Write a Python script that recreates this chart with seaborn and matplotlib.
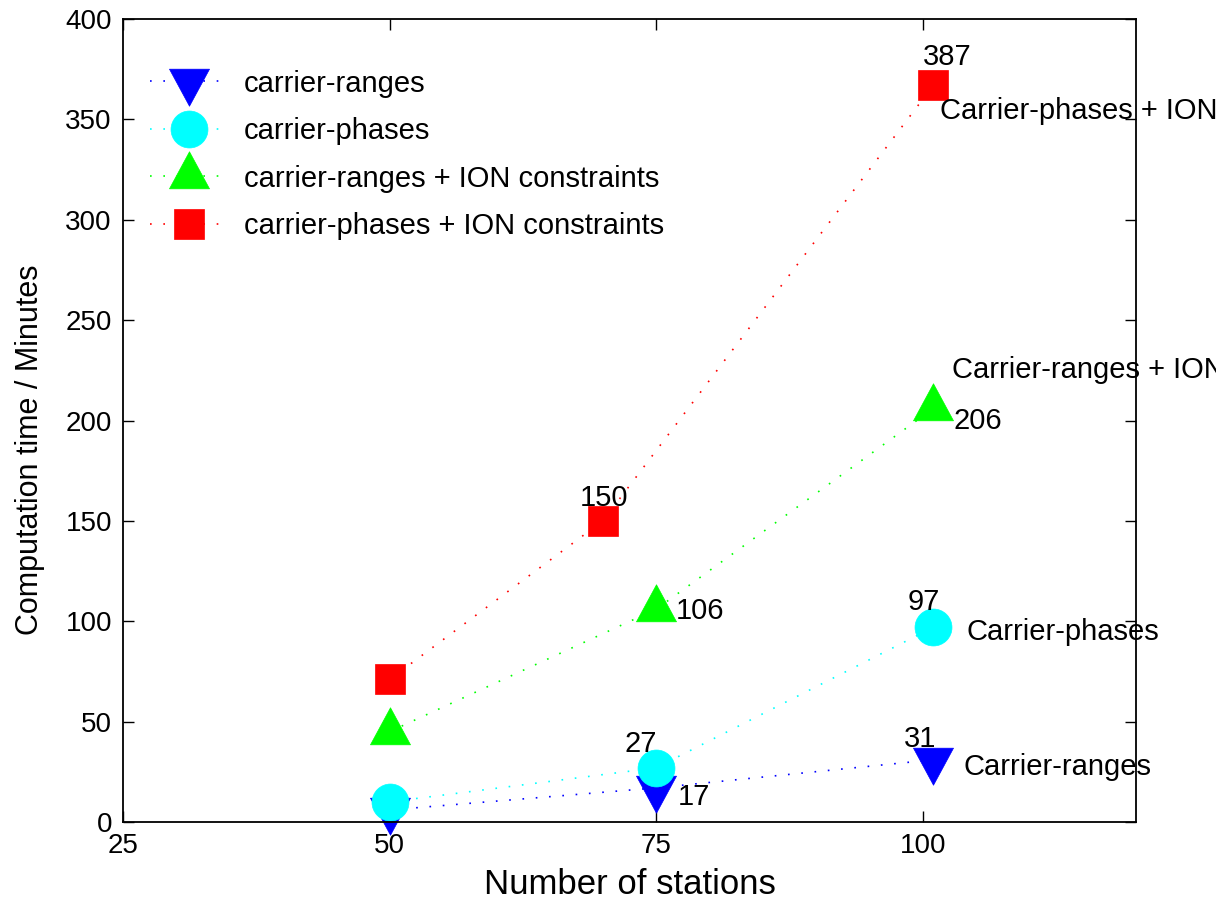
import matplotlib
matplotlib.use("Agg")
import matplotlib.pyplot as plt
from matplotlib.path import Path
import seaborn as sns

# stations / computation time (minutes) for each processing mode
stations_cr = [50, 75, 101]
minutes_cr = [6, 17, 31]
stations_cp = [50, 75, 101]
minutes_cp = [10, 27, 97]
stations_cri = [50, 75, 101]
minutes_cri = [45, 106, 206]
stations_cpi = [50, 70, 101]
minutes_cpi = [71, 150, 367]

series_names = ['carrier-ranges', 'carrier-phases',
                'carrier-ranges + ION constraints', 'carrier-phases + ION constraints']

x_ticks = [25, 50, 75, 100]
y_ticks = [0, 50, 100, 150, 200, 250, 300, 350, 400]


def tri(up):
    # triangle marker centred on its centroid, like matlab does
    s = 1 if up else -1
    verts = [(0, s * 24.7), (-20, -s * 12.3), (20, -s * 12.3), (0, s * 24.7)]
    return Path(verts, [Path.MOVETO, Path.LINETO, Path.LINETO, Path.CLOSEPOLY])


def main():
    sns.set_style('ticks')
    plt.rcParams['font.family'] = ['Liberation Sans', 'DejaVu Sans']
    plt.rcParams['text.color'] = 'black'
    plt.rcParams['axes.labelcolor'] = 'black'
    plt.rcParams['xtick.color'] = 'black'
    plt.rcParams['ytick.color'] = 'black'
    plt.rcParams['xtick.direction'] = 'in'
    plt.rcParams['ytick.direction'] = 'in'

    fig = plt.figure(figsize=(12.16, 9.01), dpi=100)
    ax = fig.add_axes([123 / 1216, 79 / 901, 1013 / 1216, 803 / 901])

    dots = (0, (1, 7))
    sets = [
        (stations_cr, minutes_cr, (0, 0, 1), tri(False), 35.6),
        (stations_cp, minutes_cp, (0, 1, 1), 'o', 26.6),
        (stations_cri, minutes_cri, (0, 1, 0), tri(True), 35.6),
        (stations_cpi, minutes_cpi, (1, 0, 0), 's', 21.6),
    ]
    for (xs, ys, col, mk, ms), name in zip(sets, series_names):
        sns.lineplot(x=xs, y=ys, ax=ax, color=col, linestyle=dots, linewidth=1.2,
                     marker=mk, markersize=ms, markeredgecolor=col,
                     markerfacecolor=col, markeredgewidth=0.5,
                     label=name, clip_on=False, legend=False)

    # value labels and series names next to the points
    notes = [
        (101, minutes_cpi[2], '387', -11, 28),
        (101, minutes_cpi[2], 'Carrier-phases + ION constraints', 7, -26),
        (101, minutes_cri[2], 'Carrier-ranges + ION constraints', 19, 38),
        (101, minutes_cri[2], '206', 20, -13),
        (75, minutes_cri[1], '106', 20, -2),
        (70, minutes_cpi[1], '150', -23, 23),
        (101, minutes_cp[2], '97', -26, 25),
        (101, minutes_cp[2], 'Carrier-phases', 33, -5),
        (101, minutes_cr[2], '31', -30, 21),
        (101, minutes_cr[2], 'Carrier-ranges', 30, -7),
        (75, minutes_cp[1], '27', -32, 24),
        (75, minutes_cr[1], '17', 22, -9),
    ]
    for x, y, txt, dx, dy in notes:
        ax.annotate(txt, xy=(x, y), xytext=(dx, dy), textcoords='offset pixels',
                    ha='left', va='center', fontsize=21, color='black',
                    annotation_clip=False)

    ax.set_xlim(25, 120)
    ax.set_ylim(0, 400)
    ax.set_xticks(x_ticks)
    ax.set_yticks(y_ticks)
    ax.tick_params(axis='both', which='major', labelsize=20, length=8, width=1,
                   top=True, right=True, pad=8, colors='black')
    for sp in ax.spines.values():
        sp.set_visible(True)
        sp.set_linewidth(1.3)
        sp.set_color('black')

    ax.set_xlabel('Number of stations', fontsize=25)
    ax.set_ylabel('Computation time / Minutes', fontsize=22)
    ax.xaxis.set_label_coords(0.5, -0.057)
    ax.yaxis.set_label_coords(-0.077, 0.463)

    ax.legend(loc='upper left', bbox_to_anchor=(0.027, 0.937), frameon=False,
              fontsize=21, handlelength=2.65, handletextpad=0.55,
              labelspacing=0.67, borderpad=0, borderaxespad=0)

    fig.savefig('out.png', dpi=100)


if __name__ == '__main__':
    main()
